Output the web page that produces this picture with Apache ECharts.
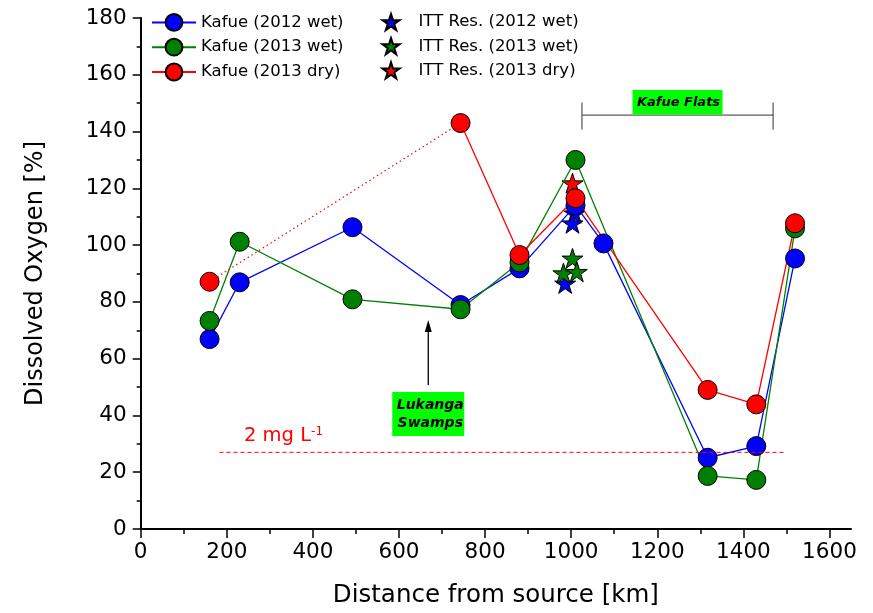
<!DOCTYPE html>
<html>
<head>
<meta charset="utf-8">
<script src="https://cdn.jsdelivr.net/npm/echarts@6/dist/echarts.min.js"></script>
<style>
  html, body { margin: 0; padding: 0; background: #ffffff; }
  #chart { width: 873px; height: 613px; }
</style>
</head>
<body>
<div id="chart"></div>
<script>
// Dissolved oxygen saturation (%) along the Kafue River, by distance from source (km)

// Kafue main stem, 2012 wet season
const wet2012Km = [160, 230, 492, 743, 880, 1010, 1075, 1317, 1430, 1520];
const wet2012DO = [66.9, 86.9, 106.3, 78.9, 91.8, 114.0, 100.6, 25.1, 29.2, 95.3];

// Kafue main stem, 2013 wet season
const wet2013Km = [160, 230, 492, 743, 880, 1010, 1317, 1430, 1520];
const wet2013DO = [73.3, 101.2, 80.9, 77.4, 93.9, 130.0, 18.7, 17.3, 105.9];

// Kafue main stem, 2013 dry season (first leg has no intermediate stations)
const dry2013Km = [160, 743, 880, 1010, 1317, 1430, 1520];
const dry2013DO = [87.1, 143.0, 96.5, 116.5, 49.0, 43.9, 107.7];

// Itezhi-Tezhi reservoir profiles
const ittWet2012Km = [1008, 1003, 986];
const ittWet2012DO = [111.2, 107.7, 86.5];
const ittWet2013Km = [1003, 982, 1013];
const ittWet2013DO = [95.3, 90.1, 90.6];
const ittDry2013Km = [1003];
const ittDry2013DO = [121.8];

// Axis ticks
const xTickValues = [0, 200, 400, 600, 800, 1000, 1200, 1400, 1600];

// Reference level: 2 mg/L expressed as saturation, and the reach it is drawn over
const limitDO = 27;
const limitSpanKm = [183, 1499];
const limitLabelAt = [240, 32.8];

// Kafue Flats reach and Lukanga Swamps inflow
const flatsKm = [1025, 1469];
const flatsLevel = 145.8;
const lukangaKm = 668;
const lukangaArrowDO = [50.7, 73.6];
const lukangaBoxTop = 48.3;

const FONT = 'DejaVu Sans';
const BLUE = '#0000ff', GREEN = '#008000', RED = '#ff0000';
const STAR = 'path://M50,0 L61.76,36.18 L99.8,36.18 L69.02,58.54 L80.78,94.72 L50,72.36 L19.22,94.72 L30.98,58.54 L0.2,36.18 L38.24,36.18 Z';

const zip = (xs, ys) => xs.map((x, i) => [x, ys[i]]);

function riverSeries(name, xs, ys, color) {
  return {
    name: name, type: 'line', data: zip(xs, ys),
    symbol: 'circle', symbolSize: 19, showAllSymbol: true,
    lineStyle: { color: color, width: 1.3 },
    itemStyle: { color: color, borderColor: '#000', borderWidth: 1 },
    emphasis: { disabled: true }, animation: false
  };
}
function starSeries(name, xs, ys, color) {
  return {
    name: name, type: 'scatter', data: zip(xs, ys),
    symbol: STAR, symbolSize: 21, symbolKeepAspect: true,
    itemStyle: { color: color, borderColor: '#000', borderWidth: 1, opacity: 1 },
    emphasis: { disabled: true }
  };
}

const axisText = { color: '#000', fontFamily: FONT, fontSize: 21.5 };

const option = {
  animation: false,
  backgroundColor: '#ffffff',
  textStyle: { fontFamily: FONT },
  grid: { left: 140.7, right: 22, top: 18, bottom: 84 },
  legend: [
    {
      data: ['Kafue (2012 wet)', 'Kafue (2013 wet)', 'Kafue (2013 dry)'],
      orient: 'vertical', left: 151, top: 13, padding: 0,
      itemWidth: 44, itemHeight: 21, itemGap: 6,
      selectedMode: false,
      textStyle: { fontSize: 16.5, color: '#000', fontFamily: FONT }
    },
    {
      data: ['ITT Res. (2012 wet)', 'ITT Res. (2013 wet)', 'ITT Res. (2013 dry)'],
      orient: 'vertical', left: 381.5, top: 13, padding: 0,
      itemWidth: 17, itemHeight: 21, itemGap: 6,
      selectedMode: false,
      textStyle: { fontSize: 16.5, color: '#000', fontFamily: FONT, padding: [0, 0, 0, 14] }
    }
  ],
  xAxis: {
    type: 'value', min: 0, max: 1650, interval: 200,
    name: 'Distance from source [km]', nameLocation: 'middle', nameGap: 54,
    nameTextStyle: { color: '#000', fontFamily: FONT, fontSize: 24.5 },
    axisLine: { show: true, onZero: false, lineStyle: { color: '#000', width: 2 } },
    axisTick: { show: true, length: 9, customValues: xTickValues, lineStyle: { color: '#000', width: 1.5 } },
    minorTick: { show: true, splitNumber: 2, length: 5, lineStyle: { color: '#000', width: 1.5 } },
    axisLabel: Object.assign({ customValues: xTickValues, margin: 12, formatter: v => String(v) }, axisText),
    splitLine: { show: false }
  },
  yAxis: {
    type: 'value', min: 0, max: 180, interval: 20,
    name: 'Dissolved Oxygen [%]', nameLocation: 'middle', nameGap: 93,
    nameTextStyle: { color: '#000', fontFamily: FONT, fontSize: 24 },
    axisLine: { show: true, onZero: false, lineStyle: { color: '#000', width: 2 } },
    axisTick: { show: true, length: 8, lineStyle: { color: '#000', width: 1.5 } },
    minorTick: { show: true, splitNumber: 2, length: 4, lineStyle: { color: '#000', width: 1.5 } },
    axisLabel: Object.assign({ margin: 14, formatter: v => String(v) }, axisText),
    splitLine: { show: false }
  },
  series: [
    riverSeries('Kafue (2012 wet)', wet2012Km, wet2012DO, BLUE),
    riverSeries('Kafue (2013 wet)', wet2013Km, wet2013DO, GREEN),
    {
      // unsampled leg of the dry-season survey
      name: 'dry2013Gap', type: 'line',
      data: zip(dry2013Km.slice(0, 2), dry2013DO.slice(0, 2)),
      showSymbol: false, silent: true,
      lineStyle: { color: RED, width: 1.2, type: [1.5, 3] }
    },
    {
      // first dry-season station, isolated from the solid trace
      name: 'dry2013Head', type: 'scatter',
      data: zip(dry2013Km.slice(0, 1), dry2013DO.slice(0, 1)),
      symbol: 'circle', symbolSize: 19,
      itemStyle: { color: RED, borderColor: '#000', borderWidth: 1, opacity: 1 },
      emphasis: { disabled: true }
    },
    riverSeries('Kafue (2013 dry)', dry2013Km.slice(1), dry2013DO.slice(1), RED),
    starSeries('ITT Res. (2012 wet)', ittWet2012Km, ittWet2012DO, BLUE),
    starSeries('ITT Res. (2013 wet)', ittWet2013Km, ittWet2013DO, GREEN),
    starSeries('ITT Res. (2013 dry)', ittDry2013Km, ittDry2013DO, RED)
  ]
};

const chart = echarts.init(document.getElementById('chart'), null, { renderer: 'canvas' });
chart.setOption(option);

// Annotations placed from data coordinates
const P = (x, y) => chart.convertToPixel({ gridIndex: 0 }, [x, y]);

const a0 = P(limitSpanKm[0], limitDO), a1 = P(limitSpanKm[1], limitDO);
const lbl = P(limitLabelAt[0], limitLabelAt[1]);

const f0 = P(flatsKm[0], flatsLevel), f1 = P(flatsKm[1], flatsLevel);
const fMid = (f0[0] + f1[0]) / 2;

const lkBase = P(lukangaKm, lukangaArrowDO[0]), lkTip = P(lukangaKm, lukangaArrowDO[1]);
const lkBox = P(lukangaKm, lukangaBoxTop);

const annotText = { fontFamily: FONT, fontWeight: 'bold', fontStyle: 'italic', fill: '#000' };

chart.setOption({
  graphic: [
    // 2 mg/L level
    {
      type: 'line', silent: true, z: 50,
      shape: { x1: a0[0], y1: a0[1], x2: a1[0], y2: a1[1] },
      style: { stroke: RED, lineWidth: 1, lineDash: [4, 3] }
    },
    {
      type: 'text', silent: true, z: 50, x: lbl[0], y: lbl[1],
      style: {
        text: '{n|2 mg L}{s|-1}', verticalAlign: 'middle', align: 'left',
        rich: {
          n: { fontFamily: FONT, fontSize: 19.5, fill: RED, color: RED },
          s: { fontFamily: FONT, fontSize: 12, fill: RED, color: RED, verticalAlign: 'top' }
        }
      }
    },
    // Kafue Flats bracket
    {
      type: 'line', silent: true, z: 50,
      shape: { x1: f0[0], y1: f0[1], x2: f1[0], y2: f1[1] },
      style: { stroke: '#333', lineWidth: 1 }
    },
    {
      type: 'line', silent: true, z: 50,
      shape: { x1: f0[0], y1: f0[1] - 12.5, x2: f0[0], y2: f0[1] + 14.5 },
      style: { stroke: '#333', lineWidth: 1 }
    },
    {
      type: 'line', silent: true, z: 50,
      shape: { x1: f1[0], y1: f1[1] - 12.5, x2: f1[0], y2: f1[1] + 14.5 },
      style: { stroke: '#333', lineWidth: 1 }
    },
    {
      type: 'rect', silent: true, z: 51,
      shape: { x: fMid - 45, y: f0[1] - 25, width: 90, height: 24.5 },
      style: { fill: '#00ff00' }
    },
    {
      type: 'text', silent: true, z: 52, x: fMid + 1, y: f0[1] - 12.5,
      style: Object.assign({ text: 'Kafue Flats', fontSize: 13, align: 'center', verticalAlign: 'middle' }, annotText)
    },
    // Lukanga Swamps inflow
    {
      type: 'line', silent: true, z: 50,
      shape: { x1: lkBase[0], y1: lkBase[1], x2: lkTip[0], y2: lkTip[1] + 10 },
      style: { stroke: '#000', lineWidth: 1.3 }
    },
    {
      type: 'polygon', silent: true, z: 50,
      shape: { points: [[lkTip[0], lkTip[1]], [lkTip[0] - 3.5, lkTip[1] + 12], [lkTip[0] + 3.5, lkTip[1] + 12]] },
      style: { fill: '#000' }
    },
    {
      type: 'rect', silent: true, z: 51,
      shape: { x: lkBox[0] - 36, y: lkBox[1], width: 72, height: 44 },
      style: { fill: '#00ff00' }
    },
    {
      type: 'text', silent: true, z: 52, x: lkBox[0] + 2, y: lkBox[1] + 22,
      style: Object.assign({ text: 'Lukanga\nSwamps', fontSize: 14, lineHeight: 18, align: 'center', verticalAlign: 'middle' }, annotText)
    }
  ]
});
</script>
</body>
</html>
